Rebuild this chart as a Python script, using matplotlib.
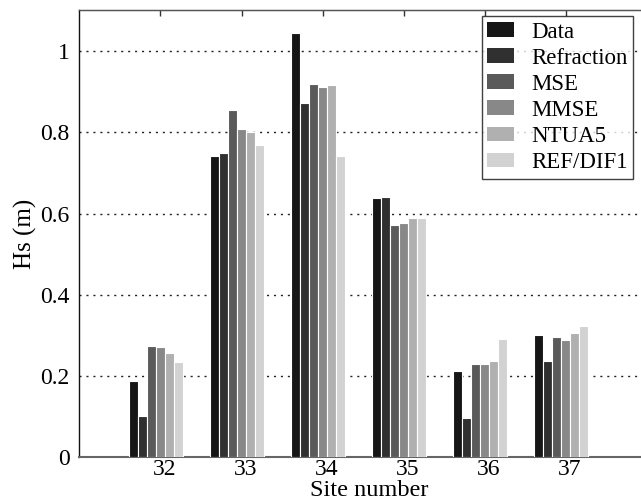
import matplotlib
matplotlib.use("Agg")
import matplotlib.pyplot as plt
import matplotlib.transforms as mtransforms
import numpy as np

sites = [32, 33, 34, 35, 36, 37]
series_names = ["Data", "Refraction", "MSE", "MMSE", "NTUA5", "REF/DIF1"]
data = [0.188, 0.743, 1.045, 0.639, 0.213, 0.302]
refraction = [0.101, 0.749, 0.872, 0.642, 0.097, 0.237]
mse = [0.274, 0.856, 0.919, 0.573, 0.229, 0.296]
mmse = [0.271, 0.809, 0.911, 0.578, 0.229, 0.289]
ntua5 = [0.258, 0.801, 0.916, 0.590, 0.238, 0.307]
refdif1 = [0.235, 0.768, 0.743, 0.590, 0.291, 0.323]
yticks = [0, 0.2, 0.4, 0.6, 0.8, 1.0]
ytick_labels = ["0", "0.2", "0.4", "0.6", "0.8", "1"]

values = [data, refraction, mse, mmse, ntua5, refdif1]
colors = ["#161616", "#303030", "#5a5a5a", "#888888", "#b0b0b0", "#d2d2d2"]

plt.rcParams['font.family'] = ['Liberation Serif', 'DejaVu Serif']

W, H = 641, 504
fig = plt.figure(figsize=(W / 100, H / 100), dpi=100)
left_px, right_px, top_px, bot_px = 79.3, 647.2, 10.5, 457.3
ax = fig.add_axes([left_px / W, 1 - bot_px / H, (right_px - left_px) / W, (bot_px - top_px) / H])

bw = 0.111
group_shift = -0.058
x = np.array(sites, dtype=float)
n = len(values)
for i, (vals, c, name) in enumerate(zip(values, colors, series_names)):
    ax.bar(x + group_shift + (i - (n - 1) / 2) * bw, vals, width=bw, color=c,
           edgecolor="white", linewidth=0.8, label=name, zorder=3)

ax.set_ylim(0, 1.1)
ax.set_xlim(31, 38)

ax.set_yticks(yticks)
ax.set_yticklabels(ytick_labels)
ax.tick_params(axis='y', length=0, pad=7, labelsize=17)
ax.yaxis.grid(True, linestyle=(0, (1.5, 3.5)), color="#222222", linewidth=1.0, zorder=0)
ax.set_axisbelow(True)

ax.set_xticks(x)
ax.set_xticklabels([str(s) for s in sites])
ax.tick_params(axis='x', length=0, pad=1, labelsize=17)
offset = mtransforms.ScaledTranslation(4 / 100, 0, fig.dpi_scale_trans)
for lab in ax.get_xticklabels():
    lab.set_transform(lab.get_transform() + offset)

# top tick marks (box on)
top = ax.secondary_xaxis('top')
top.set_xticks(x)
top.set_xticklabels([])
top.tick_params(direction='in', length=4, width=1, color="#333333")
top.spines['top'].set_color("#555555")
top.spines['top'].set_linewidth(1.0)

ax.spines['top'].set_color("#555555")
ax.spines['left'].set_color("#111111")
ax.spines['left'].set_linewidth(1.0)
ax.spines['bottom'].set_color("#666666")
ax.spines['bottom'].set_linewidth(1.5)
ax.spines['right'].set_visible(False)

xl = ax.set_xlabel("Site number", fontsize=17.5, labelpad=0)
xl.set_transform(xl.get_transform() + mtransforms.ScaledTranslation(6 / 100, 0, fig.dpi_scale_trans))
ax.set_ylabel("Hs (m)", fontsize=18, labelpad=2)

leg = fig.legend(loc='upper left', bbox_to_anchor=(481.7 / W, 1 - 16 / H),
                 fontsize=16.5, frameon=True, fancybox=False, borderpad=0.25,
                 labelspacing=0.22, handlelength=1.15, handleheight=0.6,
                 handletextpad=0.75, borderaxespad=0)
leg.get_frame().set_edgecolor("#111111")
leg.get_frame().set_linewidth(1.0)
for p in leg.get_patches():
    p.set_edgecolor("none")

fig.savefig("out.png", dpi=100)
